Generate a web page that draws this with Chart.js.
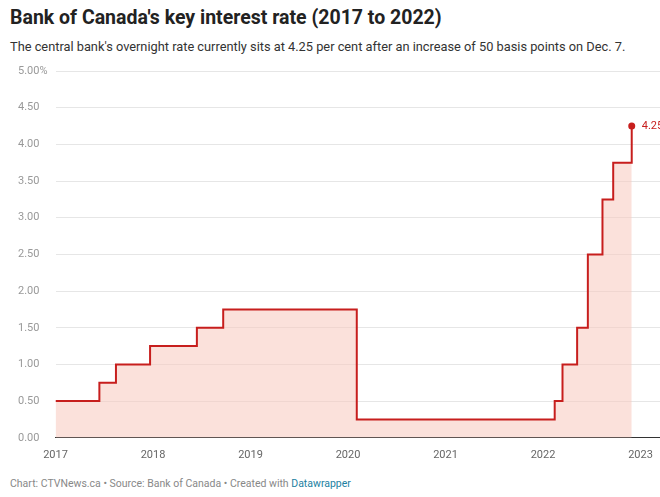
<!DOCTYPE html>
<html><head><meta charset="utf-8">
<script src="https://cdn.jsdelivr.net/npm/chart.js@4"></script>
<style>
body{margin:0;width:660px;height:497px;overflow:hidden;background:#fff;font-family:Roboto,"Noto Sans",sans-serif;position:relative}
#t{position:absolute;left:10px;top:6px;font-size:19.5px;font-weight:700;color:#222}
#s{position:absolute;left:10px;top:39px;font-size:12.8px;color:#333}
#f{position:absolute;left:10px;top:477px;font-size:10.5px;color:#888}
#f span{color:#1d81a2}
#w{position:absolute;left:0;top:0;width:660px;height:497px}
</style></head><body>
<div id="t">Bank of Canada's key interest rate (2017 to 2022)</div>
<div id="s">The central bank's overnight rate currently sits at 4.25 per cent after an increase of 50 basis points on Dec. 7.</div>
<div id="f">Chart: CTVNews.ca • Source: Bank of Canada • Created with <span>Datawrapper</span></div>
<div id="w"><canvas id="c"></canvas></div>
<script>
// dates as decimal years, rate after each change
const changeDates = [2017.0, 2017.45, 2017.62, 2017.97, 2018.45, 2018.72, 2020.09, 2022.12, 2022.2, 2022.35, 2022.46, 2022.61, 2022.72, 2022.91];
const rates = [0.5, 0.75, 1.0, 1.25, 1.5, 1.75, 0.25, 0.5, 1.0, 1.5, 2.5, 3.25, 3.75, 4.25];
const yearTicks = [2017, 2018, 2019, 2020, 2021, 2022, 2023];

// build step points
const pts = [];
changeDates.forEach((d, i) => {
    if (i > 0) pts.push({x: d, y: rates[i - 1]});
    pts.push({x: d, y: rates[i]});
});

const red = '#c71e1d';
const endLabel = {
    id: 'endLabel',
    afterDatasetsDraw(chart) {
        const m = chart.getDatasetMeta(0).data;
        const p = m[m.length - 1];
        const ctx = chart.ctx;
        ctx.save();
        ctx.fillStyle = red;
        ctx.beginPath(); ctx.arc(p.x, p.y, 3.5, 0, Math.PI * 2); ctx.fill();
        ctx.font = '11px Roboto';
        ctx.textBaseline = 'middle';
        ctx.fillText(rates[rates.length - 1].toFixed(2), p.x + 10, p.y);
        ctx.restore();
    }
};

new Chart(document.getElementById('c'), {
    type: 'line',
    data: {datasets: [{
        data: pts,
        borderColor: red,
        borderWidth: 2,
        backgroundColor: 'rgba(248,200,190,0.55)',
        fill: 'origin',
        pointRadius: 0,
        tension: 0
    }]},
    options: {
        responsive: true, maintainAspectRatio: false, animation: false,
        layout: {padding: {top: 71, bottom: 32, left: 18}},
        plugins: {legend: {display: false}, tooltip: {enabled: false}},
        scales: {
            x: {
                type: 'linear', min: 2017, max: 2023.2,
                afterBuildTicks: ax => { ax.ticks = yearTicks.map(v => ({value: v})); },
                grid: {display: false, drawTicks: true},
                border: {color: '#333'},
                ticks: {color: '#666', font: {size: 11, family: 'Roboto'}, callback: v => String(v)}
            },
            y: {
                min: 0, max: 5,
                ticks: {stepSize: 0.5, color: '#999', font: {size: 11, family: 'Roboto'}, crossAlign: 'far', padding: 4,
                    callback: v => v === 5 ? '5.00%' : v.toFixed(2)},
                grid: {color: '#e6e6e6', drawTicks: false},
                border: {display: false}
            }
        }
    },
    plugins: [endLabel]
});
</script>
</body></html>
